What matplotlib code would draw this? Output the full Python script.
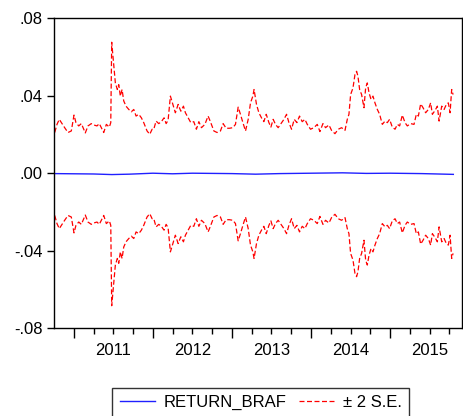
import matplotlib.pyplot as plt
import numpy as np

# time in decimal years, upper +2 S.E. band
se_time = [2010.759, 2010.788, 2010.817, 2010.851, 2010.885, 2010.927, 2010.969,
           2011.003, 2011.028, 2011.063, 2011.096, 2011.146, 2011.180, 2011.222,
           2011.253, 2011.294, 2011.323, 2011.379, 2011.412, 2011.450, 2011.468,
           2011.480, 2011.506, 2011.526, 2011.551, 2011.569, 2011.589, 2011.611,
           2011.632, 2011.661, 2011.696, 2011.728, 2011.759, 2011.788, 2011.822,
           2011.855, 2011.885, 2011.927, 2011.961, 2011.991, 2012.012, 2012.041,
           2012.075, 2012.108, 2012.142, 2012.168, 2012.193, 2012.222, 2012.253,
           2012.285, 2012.320, 2012.354, 2012.387, 2012.412, 2012.446, 2012.480,
           2012.518, 2012.551, 2012.582, 2012.615, 2012.658, 2012.699, 2012.728,
           2012.772, 2012.813, 2012.855, 2012.889, 2012.927, 2012.969, 2013.012,
           2013.045, 2013.079, 2013.108, 2013.139, 2013.172, 2013.206, 2013.235,
           2013.265, 2013.280, 2013.311, 2013.341, 2013.374, 2013.404, 2013.434,
           2013.468, 2013.493, 2013.522, 2013.551, 2013.585, 2013.620, 2013.658,
           2013.691, 2013.721, 2013.754, 2013.788, 2013.822, 2013.855, 2013.889,
           2013.923, 2013.953, 2013.994, 2014.037, 2014.079, 2014.113, 2014.151,
           2014.184, 2014.227, 2014.260, 2014.303, 2014.345, 2014.387, 2014.430,
           2014.459, 2014.480, 2014.501, 2014.531, 2014.556, 2014.577, 2014.594,
           2014.615, 2014.640, 2014.670, 2014.691, 2014.712, 2014.734, 2014.759,
           2014.784, 2014.809, 2014.839, 2014.868, 2014.902, 2014.936, 2014.965,
           2014.994, 2015.028, 2015.063, 2015.092, 2015.121, 2015.155, 2015.189,
           2015.218, 2015.260, 2015.303, 2015.332, 2015.358, 2015.387, 2015.417,
           2015.450, 2015.484, 2015.513, 2015.535, 2015.569, 2015.598, 2015.620,
           2015.653, 2015.683, 2015.712, 2015.737, 2015.759, 2015.779, 2015.797]

upper_se = [0.0209, 0.0251, 0.0277, 0.0255, 0.0234, 0.0209, 0.0217,
            0.0299, 0.0260, 0.0243, 0.0255, 0.0207, 0.0243, 0.0255,
            0.0248, 0.0243, 0.0255, 0.0209, 0.0251, 0.0237, 0.0260,
            0.0675, 0.0559, 0.0465, 0.0431, 0.0456, 0.0397, 0.0431,
            0.0372, 0.0345, 0.0328, 0.0316, 0.0328, 0.0294, 0.0303,
            0.0285, 0.0260, 0.0217, 0.0200, 0.0226, 0.0226, 0.0268,
            0.0255, 0.0265, 0.0285, 0.0255, 0.0272, 0.0397, 0.0354,
            0.0311, 0.0354, 0.0319, 0.0345, 0.0311, 0.0285, 0.0260,
            0.0265, 0.0226, 0.0265, 0.0234, 0.0251, 0.0294, 0.0265,
            0.0217, 0.0209, 0.0217, 0.0255, 0.0231, 0.0231, 0.0234,
            0.0251, 0.0340, 0.0303, 0.0260, 0.0217, 0.0277, 0.0362,
            0.0397, 0.0431, 0.0354, 0.0311, 0.0285, 0.0265, 0.0303,
            0.0260, 0.0237, 0.0277, 0.0251, 0.0234, 0.0255, 0.0277,
            0.0303, 0.0260, 0.0226, 0.0277, 0.0260, 0.0294, 0.0265,
            0.0277, 0.0251, 0.0226, 0.0234, 0.0251, 0.0214, 0.0255,
            0.0234, 0.0248, 0.0220, 0.0203, 0.0226, 0.0234, 0.0220,
            0.0277, 0.0303, 0.0405, 0.0439, 0.0508, 0.0525, 0.0499,
            0.0431, 0.0405, 0.0337, 0.0439, 0.0465, 0.0414, 0.0380,
            0.0397, 0.0362, 0.0328, 0.0303, 0.0251, 0.0268, 0.0260,
            0.0277, 0.0237, 0.0226, 0.0251, 0.0243, 0.0299, 0.0260,
            0.0243, 0.0255, 0.0251, 0.0303, 0.0294, 0.0357, 0.0337,
            0.0311, 0.0328, 0.0362, 0.0303, 0.0323, 0.0345, 0.0268,
            0.0345, 0.0328, 0.0354, 0.0362, 0.0311, 0.0431, 0.0405]

# forecast of RETURN_BRAF (nearly flat)
ret_time = [2010.75, 2011.0, 2011.25, 2011.48, 2011.7, 2012.0, 2012.25, 2012.5,
            2012.75, 2013.0, 2013.3, 2013.6, 2014.0, 2014.4, 2014.7, 2015.0,
            2015.4, 2015.8]
return_braf = [-0.0003, -0.0004, -0.0005, -0.0008, -0.0006, -0.0001, -0.0004, -0.0001,
               -0.0002, -0.0003, -0.0006, -0.0003, -0.0001, 0.0001, -0.0002, -0.0001,
               -0.0003, -0.0007]
forecast_mean = -0.0005

years = [2011, 2012, 2013, 2014, 2015]
yticks = [0.08, 0.04, 0.0, -0.04, -0.08]
ytick_labels = ['.08', '.04', '.00', '-.04', '-.08']

plt.rcParams['font.family'] = ['Liberation Sans', 'DejaVu Sans']

upper = np.array(upper_se)
lower = 2 * forecast_mean - upper

fig = plt.figure(figsize=(4.63, 4.16), dpi=100)
ax = fig.add_axes([0.1166, 0.2115, 0.8813, 0.7452])

ax.plot(ret_time, return_braf, color='#2020ff', lw=1.0, label='RETURN_BRAF')
ax.plot(se_time, upper, color='#ff0000', lw=0.9, ls=(0, (4, 2)), label='± 2 S.E.')
ax.plot(se_time, lower, color='#ff0000', lw=0.9, ls=(0, (4, 2)))

ax.set_xlim(2010.75, 2015.91)
ax.set_ylim(-0.08, 0.08)

ax.set_yticks(yticks)
ax.set_yticklabels(ytick_labels, fontsize=12)
ax.tick_params(axis='y', direction='out', length=5, width=1, pad=3)

# long ticks at year starts, short ones at quarters
ax.set_xticks(years)
ax.set_xticklabels([])
quarters = [y + q for y in [2010] + years for q in (0.25, 0.5, 0.75)]
ax.set_xticks([q for q in quarters if 2010.8 < q < 2015.9], minor=True)
ax.tick_params(axis='x', which='major', direction='out', length=7, width=1)
ax.tick_params(axis='x', which='minor', direction='out', length=4, width=1)

sec = ax.secondary_xaxis('bottom')
sec.set_xticks([y + 0.5 for y in years])
sec.set_xticklabels([str(y) for y in years], fontsize=12)
sec.tick_params(length=0, pad=11)
sec.spines['bottom'].set_visible(False)

for s in ax.spines.values():
    s.set_linewidth(1.0)

fig.legend(loc='upper center', bbox_to_anchor=(0.563, 0.068), ncol=2,
           frameon=True, fancybox=False, edgecolor='black', fontsize=12,
           handlelength=2.1, handletextpad=0.5, columnspacing=0.8,
           borderpad=0.45, borderaxespad=0)

fig.savefig('out.png', dpi=100)
